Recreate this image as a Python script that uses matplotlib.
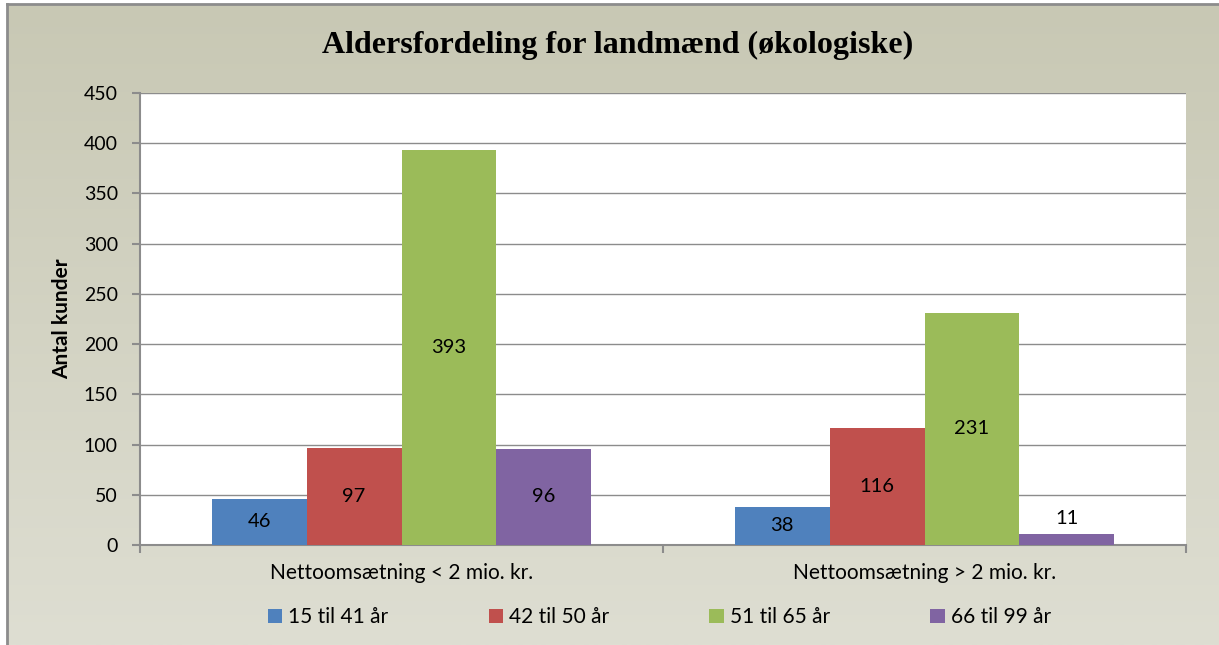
import numpy as np
import matplotlib.pyplot as plt

# data
grupper = ["Nettoomsætning < 2 mio. kr.", "Nettoomsætning > 2 mio. kr."]
aldre = ["15 til 41 år", "42 til 50 år", "51 til 65 år", "66 til 99 år"]
v_15_41 = [46, 38]
v_42_50 = [97, 116]
v_51_65 = [393, 231]
v_66_99 = [96, 11]
farver = ["#4F81BD", "#C0504D", "#9BBB59", "#8064A2"]

serier = [v_15_41, v_42_50, v_51_65, v_66_99]

fig = plt.figure(figsize=(12.19, 6.45), dpi=100)
fig.patch.set_facecolor("white")

# baggrund med gradient
bg = fig.add_axes([7/1219, 0, 1 - 7/1219, 1 - 4/645])
grad = np.linspace(0, 1, 256).reshape(-1, 1)
top = np.array([200, 200, 180]) / 255
bund = np.array([222, 222, 210]) / 255
img = top + (bund - top) * grad[..., None]
img = img.reshape(256, 1, 3)
bg.imshow(img, aspect="auto", extent=[0, 1, 0, 1], origin="upper")
bg.set_xlim(0, 1)
bg.set_ylim(0, 1)
bg.axis("off")
fig.add_artist(plt.Line2D([7/1219, 7/1219], [0, 1 - 4/645], color="#8C8C8C", lw=2, transform=fig.transFigure))
fig.add_artist(plt.Line2D([7/1219, 1], [1 - 4/645, 1 - 4/645], color="#8C8C8C", lw=2, transform=fig.transFigure))

ax = fig.add_axes([140/1219, 1 - 545/645, (1186 - 140)/1219, (545 - 93)/645])
ax.set_facecolor("white")

x = np.arange(len(grupper))
w = 0.1816
for i, (vals, navn, c) in enumerate(zip(serier, aldre, farver)):
    pos = x + (i - 1.5) * w
    ax.bar(pos, vals, width=w, color=c, label=navn, zorder=3)
    for p, v in zip(pos, vals):
        if v < 20:
            ax.text(p, v + 15, str(v), ha="center", va="center", fontsize=14.5, family="Lato", zorder=4)
        else:
            ax.text(p, v / 2, str(v), ha="center", va="center", fontsize=14.5, family="Lato", zorder=4)

ax.set_xlim(-0.5, 1.5)
ax.set_ylim(0, 450)
ax.set_yticks(np.arange(0, 451, 50))
ax.yaxis.grid(True, color="#8C8C8C", lw=1, zorder=0)
ax.set_xticks([-0.5, 0.5, 1.5])
ax.set_xticklabels([])
ax.set_xticks(x, minor=True)
ax.set_xticklabels(grupper, minor=True, fontsize=15, family="Lato")
ax.tick_params(axis="x", which="minor", length=0, pad=13)
ax.tick_params(axis="x", which="major", length=6, color="#8C8C8C", width=1.5)
ax.tick_params(axis="y", length=6, color="#8C8C8C", width=1.5, labelsize=14, pad=10)
for lbl in ax.get_yticklabels():
    lbl.set_family("Lato")
for s in ["top", "right"]:
    ax.spines[s].set_visible(False)
for s in ["left", "bottom"]:
    ax.spines[s].set_color("#8C8C8C")
    ax.spines[s].set_linewidth(1.5)
ax.set_ylabel("Antal kunder", fontsize=15, fontweight="bold", family="Lato", labelpad=8)

fig.text(0.507, 0.929, "Aldersfordeling for landmænd (økologiske)", ha="center", va="center",
         fontsize=23, fontweight="bold", family="Liberation Serif")

fig.legend(loc="center", bbox_to_anchor=(0.541, 0.043), ncol=4, frameon=False,
           handlelength=0.7, handleheight=0.7, handletextpad=0.3, columnspacing=4.8,
           prop={"family": "Lato", "size": 15})

fig.savefig("out.png", dpi=100)
